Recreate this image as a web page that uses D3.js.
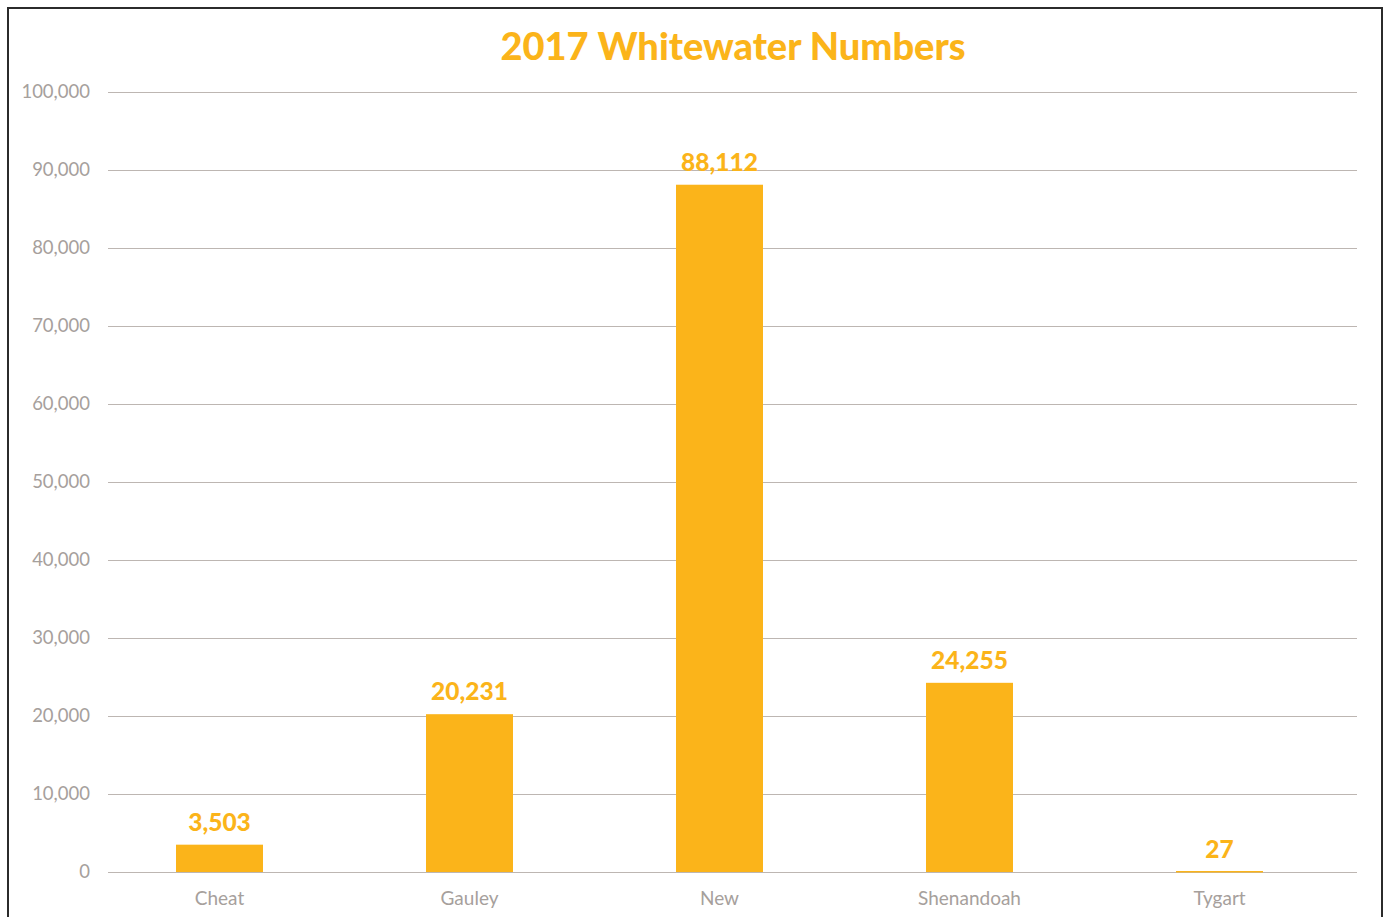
<!DOCTYPE html>
<html>
<head>
<meta charset="utf-8">
<script src="https://d3js.org/d3.v7.min.js"></script>
<style>
  html, body { margin: 0; padding: 0; background: #fff; }
  svg { display: block; }
</style>
</head>
<body>
<script>
var rivers = ['Cheat', 'Gauley', 'New', 'Shenandoah', 'Tygart'];
var visitors = [3503, 20231, 88112, 24255, 27];
var yTicks = [0, 10000, 20000, 30000, 40000, 50000, 60000, 70000, 80000, 90000, 100000];

var W = 1385, H = 917;
var orange = '#FBB41A';
var font = 'Lato, "Open Sans", sans-serif';

var svg = d3.select('body').append('svg')
  .attr('width', W)
  .attr('height', H);

// chart frame (bottom edge falls outside the picture)
svg.append('rect')
  .attr('x', 8).attr('y', 8)
  .attr('width', 1374).attr('height', 930)
  .attr('fill', '#fff')
  .attr('stroke', '#2b2b2b')
  .attr('stroke-width', 2);

var y = d3.scaleLinear().domain([0, 100000]).range([872, 92]);
var x = d3.scaleBand().domain(rivers).range([94.5, 1344.5])
  .paddingInner(0.652).paddingOuter(0.326);

// gridlines
svg.append('g')
  .selectAll('line')
  .data(yTicks)
  .enter().append('line')
  .attr('x1', 108).attr('x2', 1357)
  .attr('y1', function (d) { return Math.round(y(d)) + 0.5; })
  .attr('y2', function (d) { return Math.round(y(d)) + 0.5; })
  .attr('stroke', '#bdb6b2')
  .attr('stroke-width', 1);

// y axis labels
var yAxis = svg.append('g')
  .attr('transform', 'translate(90,0)')
  .call(d3.axisLeft(y).tickValues(yTicks).tickSize(0).tickPadding(0).tickFormat(d3.format(',')));
yAxis.select('.domain').remove();
yAxis.selectAll('text')
  .attr('fill', '#a6a09c')
  .style('font-family', font)
  .style('font-size', '18.5px');

// bars
var data = rivers.map(function (r, i) { return { river: r, value: visitors[i] }; });

svg.append('g')
  .selectAll('rect')
  .data(data)
  .enter().append('rect')
  .attr('x', function (d) { return x(d.river); })
  .attr('width', x.bandwidth())
  .attr('y', function (d) { return Math.min(y(d.value), 871); })
  .attr('height', function (d) { return Math.max(872 - y(d.value), 1.5); })
  .attr('fill', orange);

// value labels
svg.append('g')
  .selectAll('text')
  .data(data)
  .enter().append('text')
  .attr('x', function (d) { return x(d.river) + x.bandwidth() / 2; })
  .attr('y', function (d) { return y(d.value) - 14; })
  .attr('text-anchor', 'middle')
  .attr('fill', orange)
  .style('font-family', font)
  .style('font-weight', '900')
  .style('font-size', '24.5px')
  .text(function (d) { return d3.format(',')(d.value); });

// category axis
var xAxis = svg.append('g')
  .attr('transform', 'translate(0,872)')
  .call(d3.axisBottom(x).tickSize(0).tickPadding(20));
xAxis.select('.domain').remove();
xAxis.selectAll('text')
  .attr('fill', '#a6a09c')
  .style('font-family', font)
  .style('font-size', '19px');

// title
svg.append('text')
  .attr('x', 733).attr('y', 60)
  .attr('text-anchor', 'middle')
  .attr('fill', orange)
  .style('font-family', font)
  .style('font-weight', '900')
  .style('font-size', '38px')
  .text('2017 Whitewater Numbers');
</script>
</body>
</html>
